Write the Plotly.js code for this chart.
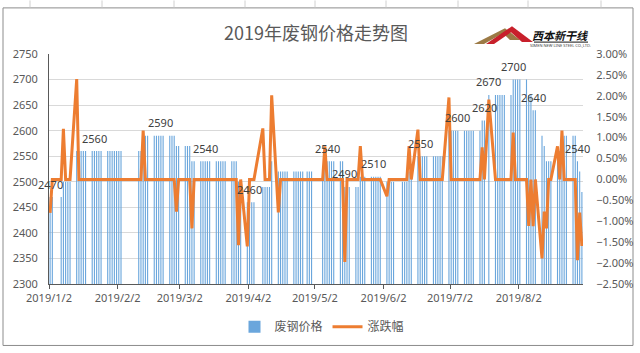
<!DOCTYPE html>
<html>
<head>
<meta charset="utf-8">
<script src="https://cdn.plot.ly/plotly-3.0.1.min.js"></script>
<style>
html,body{margin:0;padding:0;background:#fff;}
#chart{width:640px;height:353px;}
</style>
</head>
<body>
<div id="chart"></div>
<script>
// ---- data ----
const dates = [
'2019-01-02','2019-01-03','2019-01-07','2019-01-08','2019-01-09','2019-01-10','2019-01-11',
'2019-01-14','2019-01-15','2019-01-16','2019-01-17','2019-01-18',
'2019-01-21','2019-01-22','2019-01-23','2019-01-24','2019-01-25',
'2019-01-28','2019-01-29','2019-01-30','2019-01-31','2019-02-01','2019-02-02','2019-02-03',
'2019-02-11','2019-02-12','2019-02-13','2019-02-14','2019-02-15',
'2019-02-18','2019-02-19','2019-02-20','2019-02-21','2019-02-22',
'2019-02-25','2019-02-26','2019-02-27','2019-02-28','2019-03-01',
'2019-03-04','2019-03-05','2019-03-06','2019-03-07','2019-03-08',
'2019-03-11','2019-03-12','2019-03-13','2019-03-14','2019-03-15',
'2019-03-18','2019-03-19','2019-03-20','2019-03-21','2019-03-22',
'2019-03-25','2019-03-26','2019-03-27','2019-03-28','2019-03-29',
'2019-04-01','2019-04-02','2019-04-03','2019-04-04',
'2019-04-08','2019-04-09','2019-04-10','2019-04-11','2019-04-12',
'2019-04-15','2019-04-16','2019-04-17','2019-04-18','2019-04-19',
'2019-04-22','2019-04-23','2019-04-24','2019-04-25','2019-04-26','2019-04-28','2019-04-29','2019-04-30',
'2019-05-05','2019-05-06','2019-05-07','2019-05-08','2019-05-09','2019-05-10',
'2019-05-13','2019-05-14','2019-05-15','2019-05-16','2019-05-17',
'2019-05-20','2019-05-21','2019-05-22','2019-05-23','2019-05-24',
'2019-05-27','2019-05-28','2019-05-29','2019-05-30','2019-05-31',
'2019-06-03','2019-06-04','2019-06-05','2019-06-06',
'2019-06-10','2019-06-11','2019-06-12','2019-06-13','2019-06-14',
'2019-06-17','2019-06-18','2019-06-19','2019-06-20','2019-06-21',
'2019-06-24','2019-06-25','2019-06-26','2019-06-27','2019-06-28',
'2019-07-01','2019-07-02','2019-07-03','2019-07-04','2019-07-05',
'2019-07-08','2019-07-09','2019-07-10','2019-07-11','2019-07-12',
'2019-07-15','2019-07-16','2019-07-17','2019-07-19',
'2019-07-22','2019-07-23','2019-07-24','2019-07-25','2019-07-26',
'2019-07-29','2019-07-30','2019-07-31','2019-08-01','2019-08-02',
'2019-08-05','2019-08-06','2019-08-07','2019-08-08','2019-08-09',
'2019-08-12','2019-08-13','2019-08-14','2019-08-15','2019-08-16',
'2019-08-19','2019-08-20','2019-08-21','2019-08-22','2019-08-23',
'2019-08-26','2019-08-27','2019-08-28','2019-08-29','2019-08-30'
];

const prices = [
2470,2470,2470,2500,2500,2500,2500,
2560,2560,2560,2560,2560,
2560,2560,2560,2560,2560,
2560,2560,2560,2560,2560,2560,2560,
2560,2560,2590,2590,2590,
2590,2590,2590,2590,2590,
2590,2590,2590,2570,2570,
2570,2570,2570,2540,2540,
2540,2540,2540,2540,2540,
2540,2540,2540,2540,2540,
2540,2540,2540,2500,2500,
2460,2460,2460,2460,
2490,2490,2490,2490,2540,
2520,2520,2520,2520,2520,
2520,2520,2520,2520,2520,2520,2520,2520,
2520,2540,2540,2540,2540,2540,
2540,2540,2490,2490,2490,
2490,2490,2510,2510,2510,
2510,2510,2510,2510,2510,
2500,2500,2500,2500,
2500,2500,2500,2520,2520,
2550,2550,2550,2550,2550,
2550,2550,2550,2550,2550,
2600,2600,2600,2600,2600,
2600,2600,2600,2600,2600,
2600,2620,2620,2670,
2670,2670,2670,2670,2670,
2670,2700,2700,2700,2700,
2700,2670,2670,2640,2640,
2590,2570,2540,2540,2540,
2560,2560,2590,2590,2590,
2590,2590,2540,2520,2480
];

const changes = [
-0.80,0,0,1.21,0,0,0,
2.40,0,0,0,0,
0,0,0,0,0,
0,0,0,0,0,0,0,
0,0,1.17,0,0,
0,0,0,0,0,
0,0,0,-0.77,0,
0,0,0,-1.17,0,
0,0,0,0,0,
0,0,0,0,0,
0,0,0,-1.57,0,
-1.60,0,0,0,
1.22,0,0,0,2.01,
-0.79,0,0,0,0,
0,0,0,0,0,0,0,0,
0,0.79,0,0,0,0,
0,0,-1.97,0,0,
0,0,0.80,0,0,
0,0,0,0,0,
-0.40,0,0,0,
0,0,0,0.80,0,
1.19,0,0,0,0,
0,0,0,0,0,
1.96,0,0,0,0,
0,0,0,0,0,
0,0.77,0,1.91,
0,0,0,0,0,
0,1.12,0,0,0,
0,-1.11,0,-1.12,0,
-1.89,-0.77,-1.17,0,0,
0.79,0,1.17,0,0,
0,0,-1.93,-0.79,-1.59
];

const labelDates = ['2019-01-02','2019-01-22','2019-02-21','2019-03-13','2019-04-02',
'2019-05-07','2019-05-15','2019-05-28','2019-06-18','2019-07-05',
'2019-07-17','2019-07-19','2019-07-30','2019-08-08','2019-08-28'];

const seriesNames = ['废钢价格','涨跌幅'];
const chartTitle = '2019年废钢价格走势图';

// ---- layout helpers (pixel -> paper coords for decorations) ----
const L = 49, R = 583, T = 54, B = 286;
const px = x => (x - L) / (R - L);
const py = y => (B - y) / (B - T);

const font = 'Noto Sans, "Noto Sans CJK SC", sans-serif';
const DAY = 86400000;

const barTrace = {
  type: 'bar', name: seriesNames[0], x: dates, y: prices,
  xperiod: DAY, xperiodalignment: 'middle',
  marker: {color: '#6AA6DC'}, yaxis: 'y', hoverinfo: 'x+y'
};
const lineTrace = {
  type: 'scatter', mode: 'lines', name: seriesNames[1], x: dates, y: changes,
  xperiod: DAY, xperiodalignment: 'middle',
  line: {color: '#ED7D31', width: 3}, yaxis: 'y2'
};

const annotations = labelDates.map(d => {
  const i = dates.indexOf(d);
  return {
    x: d + ' 12:00', y: prices[i], xref: 'x', yref: 'y',
    text: String(prices[i]), showarrow: false, yshift: 13,
    font: {family: font, size: 11, color: '#404040'}
  };
});

// logo text
annotations.push({
  xref: 'paper', yref: 'paper', x: px(560), y: py(35), xanchor: 'center', yanchor: 'middle',
  text: '<b><i>西本新干线</i></b>',
  showarrow: false, font: {family: '"Noto Sans CJK SC", sans-serif', size: 11, color: '#111'}
});
annotations.push({
  xref: 'paper', yref: 'paper', x: px(560), y: py(45), xanchor: 'center', yanchor: 'middle',
  text: 'SIMEN NEW LINE STEEL CO.,LTD.',
  showarrow: false, font: {family: font, size: 4, color: '#444'}
});

const shapes = [];
// Excel cell lines outside the chart object
[30, 102, 174, 245, 315, 386, 458, 528, 601].forEach(x => {
  shapes.push({type: 'line', xref: 'paper', yref: 'paper', x0: px(x), x1: px(x), y0: py(0), y1: py(7),
    line: {color: '#D0D0D0', width: 1}});
});
// chart object border
shapes.push({type: 'rect', xref: 'paper', yref: 'paper', x0: px(3), x1: px(633), y0: py(7.5), y1: py(348),
  line: {color: '#8C8C8C', width: 1}, fillcolor: 'rgba(0,0,0,0)', layer: 'below'});
// logo mountains
function path(pts) { return 'M' + pts.map(p => px(p[0]) + ',' + py(p[1])).join('L') + 'Z'; }
shapes.push({type: 'path', xref: 'paper', yref: 'paper', path: path([[474,44],[505,28],[520,40],[510,40],[503,33],[484,44]]),
  fillcolor: '#9C7A45', line: {width: 0}});
shapes.push({type: 'path', xref: 'paper', yref: 'paper', path: path([[486,44],[512,26],[533,42],[522,42],[511,32],[494,44]]),
  fillcolor: '#C8202B', line: {width: 0}});
shapes.push({type: 'line', xref: 'paper', yref: 'paper', x0: px(534), x1: px(588), y0: py(42), y1: py(42),
  line: {color: '#111', width: 1}});

const layout = {
  width: 640, height: 353,
  margin: {l: L, r: 640 - R, t: T, b: 353 - B, pad: 0},
  paper_bgcolor: '#ffffff', plot_bgcolor: '#ffffff',
  font: {family: font, size: 11, color: '#595959'},
  title: {text: chartTitle, x: 0.5, xref: 'paper', xanchor: 'center', y: 1 - 33.5 / 353, yanchor: 'middle',
    font: {family: '"Noto Sans CJK SC", sans-serif', size: 18, color: '#595959'}},
  bargap: 0.5,
  showlegend: true,
  legend: {orientation: 'h', x: px(322), xanchor: 'center', y: py(329), yanchor: 'middle',
    font: {family: '"Noto Sans CJK SC", sans-serif', size: 12, color: '#595959'}, traceorder: 'normal'},
  xaxis: {
    type: 'date', range: ['2019-01-02', '2019-08-31'],
    tick0: '2019-01-02', dtick: 'M1', tickformat: '%Y/%-m/%-d',
    ticks: 'outside', ticklen: 4, tickcolor: '#595959',
    showline: true, linecolor: '#595959', linewidth: 1,
    showgrid: false, zeroline: false,
    tickfont: {size: 11, color: '#595959'}
  },
  yaxis: {
    range: [2300, 2750], dtick: 50, tick0: 2300,
    showgrid: true, gridcolor: '#D9D9D9', gridwidth: 1,
    showline: true, linecolor: '#595959', linewidth: 1,
    zeroline: false, ticks: 'outside', ticklen: 8, tickcolor: 'rgba(0,0,0,0)',
    tickfont: {size: 11, color: '#595959'}
  },
  yaxis2: {
    overlaying: 'y', side: 'right', range: [-2.5, 3.0], dtick: 0.5, tick0: -2.5,
    tickformat: '.2f', ticksuffix: '%', showgrid: false, zeroline: false, showline: false,
    ticks: 'outside', ticklen: 10, tickcolor: 'rgba(0,0,0,0)',
    tickfont: {size: 11, color: '#595959'}
  },
  annotations: annotations,
  shapes: shapes
};

Plotly.newPlot('chart', [barTrace, lineTrace], layout, {displayModeBar: false, staticPlot: true});
</script>
</body>
</html>
